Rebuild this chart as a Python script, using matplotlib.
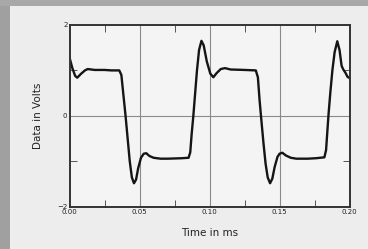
import matplotlib
matplotlib.use('Agg')
import matplotlib.pyplot as plt
from matplotlib.patches import Rectangle

time_ms = [0.000, 0.002, 0.004, 0.0055, 0.008, 0.011, 0.013, 0.018, 0.025, 0.030,
           0.0355, 0.037, 0.0385, 0.040, 0.0415, 0.043, 0.0445, 0.046, 0.0475, 0.049,
           0.051, 0.053, 0.0548, 0.057, 0.060, 0.065, 0.070, 0.080, 0.085, 0.0862,
           0.0872, 0.0884, 0.0897, 0.091, 0.0925, 0.0942, 0.0958, 0.098, 0.1005, 0.1027,
           0.105, 0.108, 0.111, 0.115, 0.125, 0.133, 0.1345, 0.1357, 0.137, 0.1385,
           0.140, 0.1415, 0.1432, 0.1448, 0.1465, 0.1485, 0.150, 0.152, 0.1545, 0.158,
           0.162, 0.170, 0.176, 0.182, 0.1832, 0.1842, 0.185, 0.1862, 0.1877, 0.1893,
           0.1912, 0.1928, 0.1943, 0.1955, 0.197, 0.1985, 0.200]
volts = [1.28, 1.05, 0.88, 0.84, 0.92, 1.00, 1.03, 1.01, 1.01, 1.00,
         1.00, 0.90, 0.45, 0.00, -0.50, -1.00, -1.35, -1.48, -1.40, -1.15,
         -0.92, -0.83, -0.82, -0.88, -0.92, -0.94, -0.94, -0.93, -0.92, -0.80,
         -0.40, 0.00, 0.50, 1.00, 1.45, 1.65, 1.55, 1.20, 0.93, 0.85,
         0.94, 1.03, 1.05, 1.02, 1.01, 1.00, 0.85, 0.35, -0.10, -0.60,
         -1.05, -1.35, -1.48, -1.38, -1.12, -0.90, -0.83, -0.81, -0.87, -0.92,
         -0.94, -0.94, -0.93, -0.91, -0.75, -0.30, 0.05, 0.50, 1.00, 1.40,
         1.64, 1.45, 1.10, 1.02, 0.95, 0.86, 0.83]

x_ticks = [0.00, 0.05, 0.10, 0.15, 0.20]
x_labels = ['0.00', '0.05', '0.10', '0.15', '0.20']
y_ticks = [-2, 0, 2]

plt.rcParams['font.family'] = ['Liberation Sans Narrow', 'DejaVu Sans']

fig = plt.figure(figsize=(3.68, 2.49), dpi=100, facecolor='#ededee')
# grey scan border on the left and top
fig.patches.append(Rectangle((0, 0), 10 / 368, 1, transform=fig.transFigure,
                             facecolor='#a0a0a0', edgecolor='none'))
fig.patches.append(Rectangle((0, 1 - 6 / 249), 1, 6 / 249, transform=fig.transFigure,
                             facecolor='#a8a8a8', edgecolor='none'))

ax = fig.add_axes([0.189, 0.169, 0.761, 0.731])
ax.set_facecolor('#f4f4f5')
ax.plot(time_ms, volts, color='#151515', linewidth=1.7)

ax.set_xlim(0, 0.2)
ax.set_ylim(-2, 2)
ax.set_xticks(x_ticks)
ax.set_xticklabels(x_labels)
ax.set_yticks(y_ticks)
ax.set_xticks([0.025, 0.075, 0.125, 0.175], minor=True)
ax.set_yticks([-1, 1], minor=True)
ax.tick_params(which='both', direction='in', top=True, right=True, labelsize=5,
               pad=1.5, color='#555555', labelcolor='#222222')
ax.tick_params(which='major', length=0)
ax.tick_params(which='minor', length=5, width=0.7)

for xv in [0.05, 0.10, 0.15]:
    ax.axvline(xv, color='#8a8a8a', linewidth=0.8, zorder=0)
ax.axhline(0, color='#8a8a8a', linewidth=0.8, zorder=0)

for s in ax.spines.values():
    s.set_linewidth(1.4)
    s.set_color('#333333')

ax.set_xlabel('Time in ms', fontsize=7.5, labelpad=9, color='#222222')
ax.set_ylabel('Data in Volts', fontsize=7.5, labelpad=10, color='#222222')

fig.savefig('out.png', dpi=100, facecolor=fig.get_facecolor())
